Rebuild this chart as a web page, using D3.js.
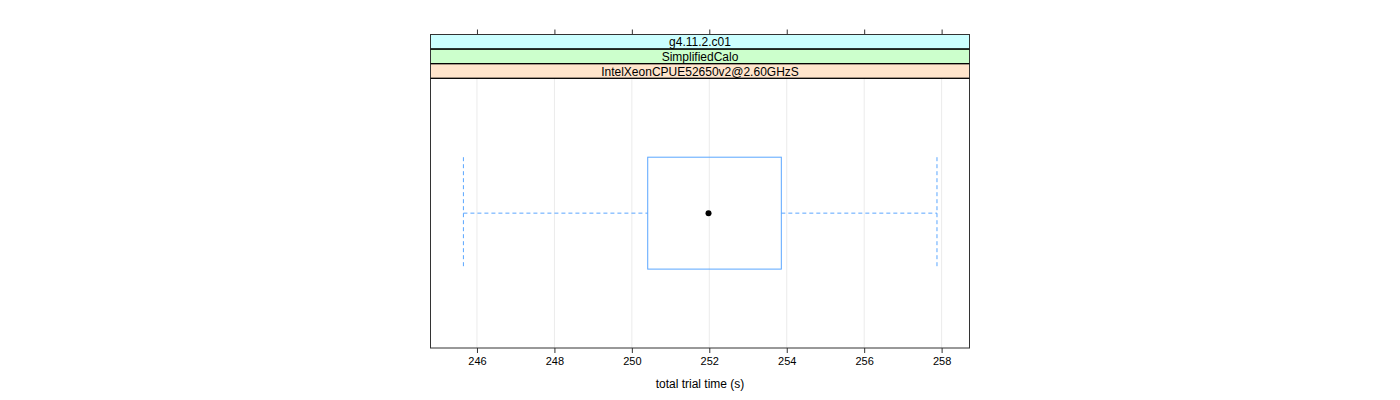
<!DOCTYPE html>
<html><head><meta charset="utf-8">
<script src="https://cdn.jsdelivr.net/npm/d3@7"></script>
<style>body{margin:0;background:#fff}svg{display:block}text{font-family:"Liberation Sans",Arial,sans-serif}</style>
</head><body><svg id="c" width="1400" height="400"></svg>
<script>
const strips = ["g4.11.2.c01", "SimplifiedCalo", "IntelXeonCPUE52650v2@2.60GHzS"];
const stripColors = ["#ccffff", "#ccffcc", "#ffe5cc"];
const ticks = [246, 248, 250, 252, 254, 256, 258];
const stats = {lowWhisker: 245.65, q1: 250.41, median: 251.98, q3: 253.86, highWhisker: 257.88};
const xLabel = "total trial time (s)";

const svg = d3.select("#c");
const L = 430.5, R = 969.5, T = 34.5, stripH = 14.6, B = 348;
const panelTop = T + stripH * strips.length;
const x = d3.scaleLinear().domain([244.80, 258.72]).range([L, R]);
const y = d3.scaleBand().domain(["a"]).range([panelTop, B]).paddingInner(0).paddingOuter(0.705);

// grid
svg.append("g").selectAll("line").data(ticks).join("line")
  .attr("x1", d => x(d)).attr("x2", d => x(d)).attr("y1", panelTop).attr("y2", B)
  .attr("stroke", "#ebebeb").attr("stroke-width", 1);

// strips
strips.forEach((s, i) => {
  const yy = T + i * stripH;
  svg.append("rect").attr("x", L).attr("y", yy).attr("width", R - L).attr("height", stripH)
    .attr("fill", stripColors[i]).attr("stroke", "#000").attr("stroke-width", 1);
  svg.append("text").attr("x", (L + R) / 2).attr("y", yy + stripH / 2 + 4.5)
    .attr("text-anchor", "middle").attr("font-size", 12).attr("fill", "#000").text(s);
});

// box plot
const by0 = y("a"), bh = y.bandwidth(), bym = by0 + bh / 2;
const col = "#5aa6ff";
svg.append("line").attr("x1", x(stats.lowWhisker)).attr("x2", x(stats.q1)).attr("y1", bym).attr("y2", bym)
  .attr("stroke", col).attr("stroke-dasharray", "4,3");
svg.append("line").attr("x1", x(stats.q3)).attr("x2", x(stats.highWhisker)).attr("y1", bym).attr("y2", bym)
  .attr("stroke", col).attr("stroke-dasharray", "4,3");
[stats.lowWhisker, stats.highWhisker].forEach(v => {
  svg.append("line").attr("x1", x(v)).attr("x2", x(v)).attr("y1", by0).attr("y2", by0 + bh)
    .attr("stroke", col).attr("stroke-dasharray", "4,3");
});
svg.append("rect").attr("x", x(stats.q1)).attr("y", by0).attr("width", x(stats.q3) - x(stats.q1)).attr("height", bh)
  .attr("fill", "none").attr("stroke", col).attr("stroke-width", 1);
svg.append("circle").attr("cx", x(stats.median)).attr("cy", bym).attr("r", 3).attr("fill", "#000");

// panel border
svg.append("rect").attr("x", L).attr("y", T).attr("width", R - L).attr("height", B - T)
  .attr("fill", "none").attr("stroke", "#333").attr("stroke-width", 1);
strips.forEach((s, i) => {
  svg.append("line").attr("x1", L).attr("x2", R).attr("y1", T + (i + 1) * stripH).attr("y2", T + (i + 1) * stripH).attr("stroke", "#000");
});

// axes
const axB = d3.axisBottom(x).tickValues(ticks).tickSize(5).tickPadding(4);
const gB = svg.append("g").attr("transform", `translate(0,${B})`).call(axB);
gB.select(".domain").remove();
gB.selectAll("line").attr("stroke", "#333");
gB.selectAll("text").attr("font-size", 11).attr("fill", "#000").attr("font-family", '"Liberation Sans",Arial,sans-serif');
const axT = d3.axisTop(x).tickValues(ticks).tickSize(5).tickFormat("");
const gT = svg.append("g").attr("transform", `translate(0,${T})`).call(axT);
gT.select(".domain").remove();
gT.selectAll("line").attr("stroke", "#333");

svg.append("text").attr("x", (L + R) / 2).attr("y", 388).attr("text-anchor", "middle")
  .attr("font-size", 12).attr("fill", "#000").text(xLabel);
</script></body></html>
